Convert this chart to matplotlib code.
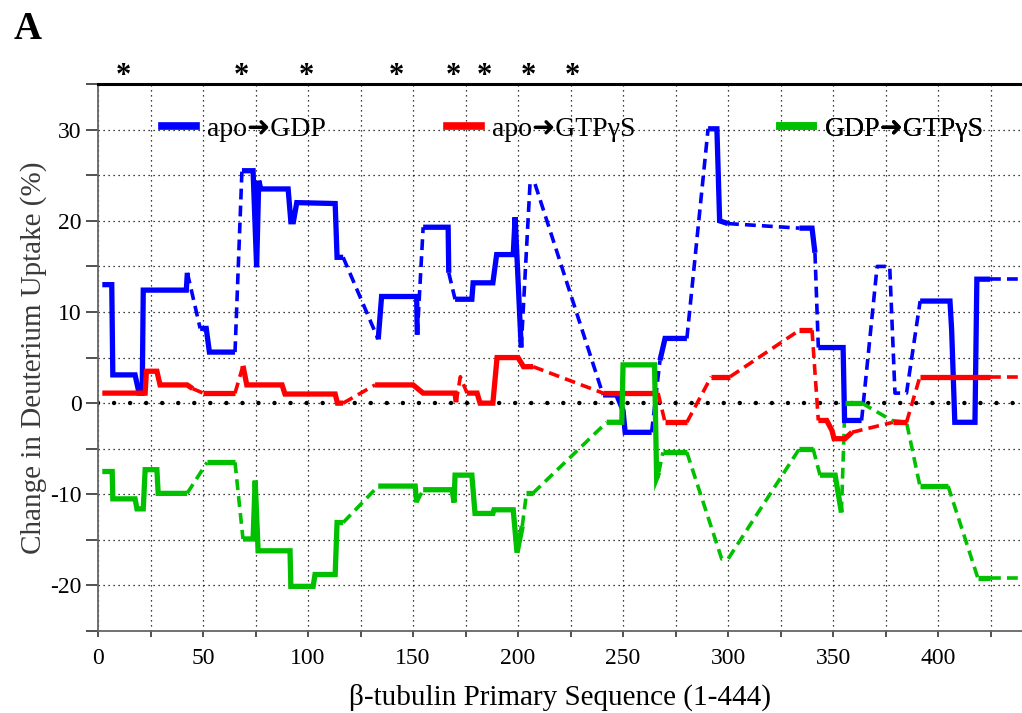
import matplotlib
matplotlib.use("Agg")
import matplotlib.pyplot as plt
from matplotlib.ticker import MultipleLocator
from matplotlib.lines import Line2D
import matplotlib.transforms as mtransforms

plt.rcParams['font.family'] = ['Liberation Serif', 'DejaVu Sans']
plt.rcParams['axes.unicode_minus'] = False

# residue position, deuterium uptake difference, and segment style
# (1 = measured peptide drawn solid, 0 = gap bridged with a dashed line)
blue_x = [2, 6.5, 7, 17.6, 19.5, 21, 21.5, 42, 42.5, 48.6, 51.5, 53, 65.2, 68.5, 73.8,
          75.5, 76.5, 77.5, 90.5, 91.8, 93, 94.6, 112.9, 113.8, 116.7, 133.4, 135, 151.7,
          152, 154.8, 166.7, 167, 170, 178, 178.6, 188, 189.8, 197.7, 198.6, 201.5,
          205.7, 208, 240.5, 247, 250, 251, 263.6, 267.6, 270, 280.4, 290.5, 294.7, 296,
          300, 334, 340, 341.4, 343, 354.8, 355.5, 363.6, 371, 377, 379.5, 385, 391.5,
          405.7, 406.5, 408, 417.6, 418.5, 424.8, 440]
blue_y = [13.0, 13.0, 3.1, 3.1, 1.1, 1.1, 12.4, 12.4, 14.3, 8.2, 8.2, 5.6, 5.6, 25.5, 25.5,
          14.9, 24.4, 23.5, 23.5, 19.9, 19.9, 22.0, 21.9, 16.0, 16.0, 7.0, 11.7, 11.7,
          7.5, 19.3, 19.3, 14.3, 11.4, 11.4, 13.2, 13.2, 16.3, 16.3, 20.4, 6.1,
          24.1, 24.1, 0.9, 0.9, -0.8, -3.2, -3.2, 4.7, 7.1, 7.1, 30.1, 30.1, 20.0,
          19.7, 19.2, 19.2, 16.5, 6.1, 6.1, -1.9, -1.9, 15.0, 15.0, 1.1, 1.1, 11.2,
          11.2, 8.0, -2.1, -2.1, 13.6, 13.6, 13.6]
blue_solid = [1, 1, 1, 1, 1, 1, 1, 1, 0, 1, 1, 1, 0, 1, 1,
              1, 1, 1, 1, 1, 1, 1, 1, 1, 0, 1, 1, 1,
              0, 1, 1, 0, 1, 1, 1, 1, 1, 1, 1, 0,
              0, 0, 1, 1, 1, 1, 0, 1, 1, 0, 1, 1, 1,
              0, 1, 1, 0, 1, 1, 1, 0, 0, 0, 0, 0, 1,
              1, 1, 1, 1, 1, 0]

red_x = [2, 22.4, 23, 28, 29.5, 42.4, 45, 50, 65.2, 69, 70.8, 87.6, 89, 112.9, 114, 116.7,
         131.9, 150, 154.8, 170, 170.5, 172.5, 175.7, 180.5, 181.9, 188, 190, 200, 202.6,
         207.2, 240.5, 266.7, 270, 280.4, 292, 301, 334, 340, 343, 347, 349.5, 350.5,
         355.7, 359, 378.6, 385, 391.4, 424.8, 440]
red_y = [1.1, 1.1, 3.5, 3.5, 2.0, 2.0, 1.6, 1.1, 1.1, 4.1, 2.0, 2.0, 1.0, 1.0, 0.0, 0.0,
         2.0, 2.0, 1.1, 1.1, 0.1, 2.9, 1.1, 1.1, 0.0, 0.0, 5.0, 5.0, 4.0,
         4.0, 1.1, 1.1, -2.1, -2.1, 2.9, 2.9, 8.0, 8.0, -1.9, -1.9, -3.0, -3.9,
         -3.9, -3.2, -2.1, -2.1, 2.9, 2.9, 2.9]
red_solid = [1, 1, 1, 1, 1, 1, 0, 1, 0, 1, 1, 1, 1, 1, 1, 0,
             1, 1, 1, 1, 0, 0, 1, 1, 1, 1, 1, 1, 1,
             0, 1, 0, 1, 0, 1, 0, 1, 0, 1, 1, 1, 1,
             1, 0, 1, 0, 1, 0]

green_x = [2, 6.7, 7, 17.6, 18.5, 21.5, 22.4, 28, 28.6, 42.4, 51.9, 65.2, 69, 73.8, 74.8,
           76.2, 91.4, 91.8, 102.4, 103.3, 112.9, 113.8, 116.7, 133.4, 151, 151.7, 154.8,
           168.6, 169.5, 170, 178, 179.5, 188, 188.5, 197.7, 199.5, 202, 204, 207, 242.2,
           249.4, 250, 265, 266, 267, 269, 280.4, 297, 300, 334, 340.5, 343.8, 351, 354,
           355.7, 363.8, 378, 385, 391.4, 404.8, 419, 424.8, 440]
green_y = [-7.5, -7.5, -10.5, -10.5, -11.6, -11.6, -7.3, -7.3, -9.9, -9.9, -6.5, -6.5, -14.9,
           -14.9, -8.5, -16.2, -16.2, -20.1, -20.1, -18.8, -18.8, -13.1, -13.1, -9.1, -9.1,
           -10.9, -9.5, -9.5, -10.9, -7.9, -7.9, -12.1, -12.1, -11.7, -11.7, -16.4, -13.5,
           -9.9, -9.9, -2.1, -2.1, 4.2, 4.2, -8.2, -7.6, -5.4, -5.4, -17.1, -17.1, -5.0,
           -5.0, -7.9, -7.9, -12.0, 0.0, 0.0, -1.9, -2.1, -9.1, -9.1, -19.2, -19.2, -19.2]
green_solid = [1, 1, 1, 1, 1, 1, 1, 1, 1, 0, 1, 0, 1, 1, 1,
               1, 1, 1, 1, 1, 1, 1, 0, 1, 1, 0, 1,
               1, 1, 1, 1, 1, 1, 1, 1, 1, 0, 1, 0, 1,
               1, 1, 1, 1, 0, 1, 0, 0, 0, 1, 0, 1, 1, 0,
               1, 0, 0, 0, 1, 0, 1, 0]

series = [
    ('apo\u279cGDP', '#0000FF', blue_x, blue_y, blue_solid),
    ('apo\u279cGTP\u03b3S', '#FF0000', red_x, red_y, red_solid),
    ('GDP\u279cGTP\u03b3S', '#00C000', green_x, green_y, green_solid),
]

# residues with significant differences
star_pos = [12, 68, 99, 142, 169, 184, 205, 226]


def draw_series(ax, x, y, solid, color):
    """draws consecutive segments of the same style as one polyline"""
    start = 0
    for i in range(1, len(solid) + 1):
        if i == len(solid) or solid[i] != solid[start]:
            xs = x[start:i + 1]
            ys = y[start:i + 1]
            if solid[start]:
                ax.plot(xs, ys, color=color, lw=3.8, solid_joinstyle='miter',
                        solid_capstyle='butt', zorder=4)
            else:
                ax.plot(xs, ys, color=color, lw=2.6, linestyle=(0, (3, 1.7)),
                        dash_capstyle='butt', zorder=3)
            start = i


fig = plt.figure(figsize=(10.22, 7.13), dpi=100)
ax = fig.add_axes([0.096, 0.115, 0.904, 0.767])

for label, color, x, y, solid in series:
    draw_series(ax, x, y, solid, color)

ax.set_xlim(0, 440)
ax.set_ylim(-25, 35)

ax.xaxis.set_major_locator(MultipleLocator(50))
ax.xaxis.set_minor_locator(MultipleLocator(25))
ax.yaxis.set_major_locator(MultipleLocator(10))
ax.yaxis.set_minor_locator(MultipleLocator(5))

ax.grid(True, which='both', color='black', lw=0.9, linestyle=(0, (1, 3)), zorder=1)
ax.set_axisbelow(True)
ax.axhline(0, color='black', lw=3.2, linestyle=(0, (0.01, 3.6)), dash_capstyle='round', zorder=2)

ax.tick_params(axis='y', which='both', direction='out', length=9, width=1.2,
               color='#333333', labelsize=17, pad=3)
ax.tick_params(axis='x', which='both', direction='out', length=4, width=1.2,
               color='#333333', labelsize=17, pad=8)

for side in ['left', 'bottom']:
    ax.spines[side].set_color('#666666')
    ax.spines[side].set_linewidth(1.3)
ax.spines['top'].set_color('black')
ax.spines['top'].set_linewidth(2.2)
ax.spines['right'].set_visible(False)

ax.set_xlabel('\u03b2-tubulin Primary Sequence (1-444)', fontsize=21, labelpad=11)
ax.set_ylabel('Change in Deuterium Uptake (%)', fontsize=21, color='#3a3a3a', labelpad=2)

# one legend per entry so each sits at its own spot along y = 30
legend_left = [0.0695, 0.378, 0.738]
for (label, color, x, y, solid), left in zip(series, legend_left):
    handle = Line2D([], [], color=color, lw=5.5)
    leg = ax.legend([handle], [label], loc='center left',
                    bbox_to_anchor=(left, 0.918), frameon=False, fontsize=20,
                    handlelength=1.2, handletextpad=0.4, borderpad=0, borderaxespad=0)
    ax.add_artist(leg)

trans = mtransforms.blended_transform_factory(ax.transData, ax.transAxes)
for xp in star_pos:
    ax.text(xp, 0.987, '*', transform=trans, ha='center', va='bottom',
            fontsize=22, fontweight='bold', clip_on=False)

fig.text(0.013, 0.958, 'A', fontsize=28, fontweight='bold', ha='left', va='center')

plt.savefig('out.png', dpi=100)
